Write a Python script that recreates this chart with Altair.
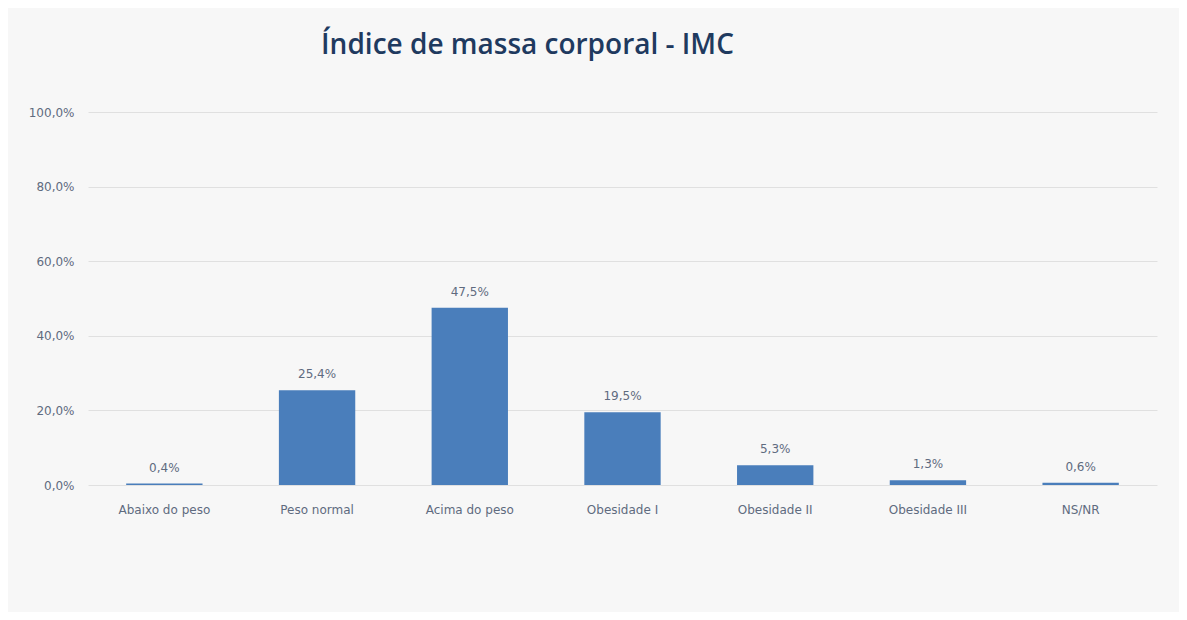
import altair as alt
import pandas as pd

categorias = ["Abaixo do peso", "Peso normal", "Acima do peso", "Obesidade I",
              "Obesidade II", "Obesidade III", "NS/NR"]
valores = [0.4, 25.4, 47.5, 19.5, 5.3, 1.3, 0.6]
y_ticks = [0, 20, 40, 60, 80, 100]

df = pd.DataFrame({"categoria": categorias, "valor": valores})

label_color = "#5f6b7f"

base = alt.Chart(df).encode(
    x=alt.X("categoria:N", sort=categorias, title=None,
            scale=alt.Scale(paddingInner=0.5, paddingOuter=0.25),
            axis=alt.Axis(labelAngle=0, ticks=False, domain=False, labelPadding=19,
                          labelFontSize=12, labelColor=label_color,
                          labelFont="DejaVu Sans")),
    y=alt.Y("valor:Q", title=None,
            scale=alt.Scale(domain=[0, 100]),
            axis=alt.Axis(values=y_ticks, ticks=False, domain=False, labelPadding=14,
                          labelFontSize=12, labelColor=label_color, labelFont="DejaVu Sans",
                          labelExpr="replace(format(datum.value, '.1f'), '.', ',') + '%'",
                          grid=True, gridColor="#e0e0e0", gridWidth=1)),
)

bars = base.mark_bar(color="#4a7ebb")

labels = base.transform_calculate(
    rotulo="replace(format(datum.valor, '.1f'), '.', ',') + '%'"
).mark_text(dy=-9, fontSize=12, color=label_color, font="DejaVu Sans", baseline="bottom").encode(
    text="rotulo:N"
)

chart = (bars + labels).properties(
    width=1069, height=373,
    padding={"left": 80, "top": 104, "right": 22, "bottom": 127},
    autosize=alt.AutoSizeParams(type="none"),
    background="#f7f7f7",
    title=alt.TitleParams("Índice de massa corporal - IMC", fontSize=28, font="Open Sans",
                          fontWeight=600, color="#1f3a5f", anchor="middle", dx=-95, dy=-42),
).configure_view(stroke=None)

chart.save("out.html", embed_options={"renderer": "svg", "actions": False})
